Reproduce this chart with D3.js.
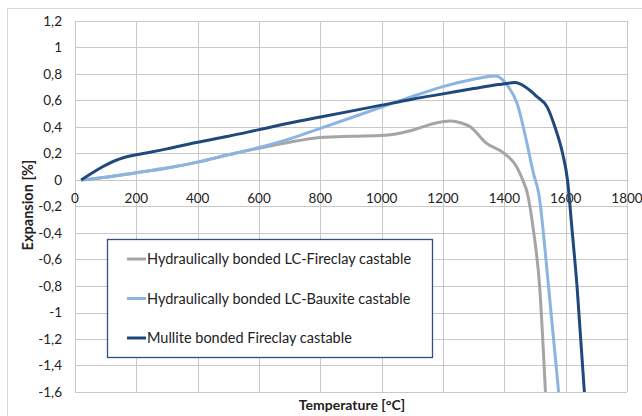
<!DOCTYPE html>
<html lang="en">
<head>
    <meta charset="UTF-8">
    <title>Expansion vs Temperature</title>
    <script src="https://d3js.org/d3.v7.min.js"></script>
    <style>
        body { margin: 0; background: #fff; }
        text { font-family: Lato, "Open Sans", sans-serif; fill: #222; }
    </style>
</head>
<body>
<div id="chart"></div>
<script>

    // tick labels
    var xTicks = [0, 200, 400, 600, 800, 1000, 1200, 1400, 1600, 1800];
    var yTicks = [1.2, 1, 0.8, 0.6, 0.4, 0.2, 0, -0.2, -0.4, -0.6, -0.8, -1, -1.2, -1.4, -1.6];

    // series (temperature °C, expansion %)
    var fireclayT = [20, 100, 200, 300, 400, 500, 600, 700, 800, 900, 1000, 1100, 1160, 1225, 1260, 1290, 1340, 1400, 1440, 1460, 1475, 1495, 1515, 1534];
    var fireclayV = [0, 0.02, 0.055, 0.09, 0.135, 0.19, 0.24, 0.285, 0.32, 0.33, 0.335, 0.375, 0.42, 0.445, 0.43, 0.4, 0.28, 0.2, 0.1, 0, -0.1, -0.38, -0.8, -1.6];

    var bauxiteT = [20, 100, 200, 300, 400, 500, 600, 700, 800, 900, 1000, 1100, 1200, 1300, 1370, 1410, 1442, 1474, 1495, 1512, 1544, 1577];
    var bauxiteV = [0, 0.02, 0.055, 0.09, 0.135, 0.19, 0.245, 0.31, 0.39, 0.47, 0.55, 0.63, 0.705, 0.76, 0.785, 0.715, 0.575, 0.275, 0.05, -0.1, -0.8, -1.6];

    var mulliteT = [20, 160, 200, 300, 400, 500, 600, 700, 800, 900, 1000, 1100, 1200, 1300, 1380, 1435, 1470, 1506, 1540, 1565, 1590, 1606, 1621, 1637, 1661];
    var mulliteV = [0, 0.17, 0.19, 0.235, 0.285, 0.33, 0.38, 0.43, 0.475, 0.52, 0.565, 0.61, 0.65, 0.69, 0.72, 0.735, 0.7, 0.63, 0.55, 0.4, 0.2, 0, -0.38, -0.8, -1.6];

    var seriesNames = ["Hydraulically bonded LC-Fireclay castable",
        "Hydraulically bonded LC-Bauxite castable",
        "Mullite bonded Fireclay castable"];
    var colors = ["#a5a5a5", "#8cb4e3", "#1f497d"];

    var series = [
        {name: seriesNames[0], color: colors[0], values: d3.zip(fireclayT, fireclayV)},
        {name: seriesNames[1], color: colors[1], values: d3.zip(bauxiteT, bauxiteV)},
        {name: seriesNames[2], color: colors[2], values: d3.zip(mulliteT, mulliteV)}
    ];

    var W = 642, H = 416;
    var margin = {top: 21, left: 75},
        width = 627 - margin.left,
        height = 392 - margin.top;

    var root = d3.select("#chart")
        .append("svg")
        .attr("width", W)
        .attr("height", H);

    // outer chart frame
    root.append("rect")
        .attr("x", 7.5).attr("y", 8.5)
        .attr("width", W + 10).attr("height", H + 10)
        .attr("fill", "none")
        .attr("stroke", "#d9d9d9")
        .attr("stroke-width", 1);

    var svg = root.append("g")
        .attr("transform", "translate(" + margin.left + "," + margin.top + ")");

    var x = d3.scaleLinear().domain([0, 1800]).range([0, width]);
    var y = d3.scaleLinear().domain([-1.6, 1.2]).range([height, 0]);

    var fmt = function (d) { return String(+d.toFixed(1)).replace(".", ","); };

    // grid
    svg.append("g")
        .selectAll("line")
        .data(xTicks)
        .enter().append("line")
        .attr("x1", function (d) { return Math.round(x(d)) + 0.5; })
        .attr("x2", function (d) { return Math.round(x(d)) + 0.5; })
        .attr("y1", 0).attr("y2", height)
        .attr("stroke", "#c8c8c8");

    svg.append("g")
        .selectAll("line")
        .data(yTicks)
        .enter().append("line")
        .attr("y1", function (d) { return Math.round(y(d)) + 0.5; })
        .attr("y2", function (d) { return Math.round(y(d)) + 0.5; })
        .attr("x1", 0).attr("x2", width)
        .attr("stroke", "#c8c8c8");

    // y tick labels
    svg.append("g")
        .selectAll("text")
        .data(yTicks)
        .enter().append("text")
        .attr("x", -13)
        .attr("y", function (d) { return y(d); })
        .attr("dy", "0.35em")
        .attr("text-anchor", "end")
        .attr("font-size", 13.5)
        .text(fmt);

    // x tick labels sit under the zero line
    svg.append("g")
        .selectAll("text")
        .data(xTicks)
        .enter().append("text")
        .attr("x", function (d) { return x(d); })
        .attr("y", y(0) + 23)
        .attr("text-anchor", "middle")
        .attr("font-size", 13.5)
        .text(function (d) { return d; });

    // lines
    var line = d3.line()
        .x(function (d) { return x(d[0]); })
        .y(function (d) { return y(d[1]); })
        .curve(d3.curveMonotoneX);

    svg.selectAll("path.series")
        .data(series)
        .enter().append("path")
        .attr("class", "series")
        .attr("fill", "none")
        .attr("stroke", function (d) { return d.color; })
        .attr("stroke-width", 3)
        .attr("stroke-linejoin", "round")
        .attr("d", function (d) { return line(d.values); });

    // axis titles
    root.append("text")
        .attr("transform", "translate(33,205) rotate(-90)")
        .attr("text-anchor", "middle")
        .attr("font-size", 14.5)
        .attr("font-weight", "bold")
        .text("Expansion [%]");

    root.append("text")
        .attr("x", 352)
        .attr("y", 410)
        .attr("text-anchor", "middle")
        .attr("font-size", 14)
        .attr("font-weight", "bold")
        .text("Temperature [°C]");

    // legend
    var legend = root.append("g").attr("transform", "translate(107,239)");
    legend.append("rect")
        .attr("x", 0.5).attr("y", 0.5)
        .attr("width", 325).attr("height", 118)
        .attr("fill", "#fff")
        .attr("stroke", "#2f4f86")
        .attr("stroke-width", 1.3);

    var item = legend.selectAll("g.item")
        .data(series)
        .enter().append("g")
        .attr("class", "item")
        .attr("transform", function (d, i) { return "translate(20," + (20 + i * 39.5) + ")"; });
    item.append("line")
        .attr("x1", 0).attr("x2", 19)
        .attr("stroke", function (d) { return d.color; })
        .attr("stroke-width", 3);
    item.append("text")
        .attr("x", 20)
        .attr("dy", "0.35em")
        .attr("font-size", 14.5)
        .text(function (d) { return d.name; });

</script>
</body>
</html>
